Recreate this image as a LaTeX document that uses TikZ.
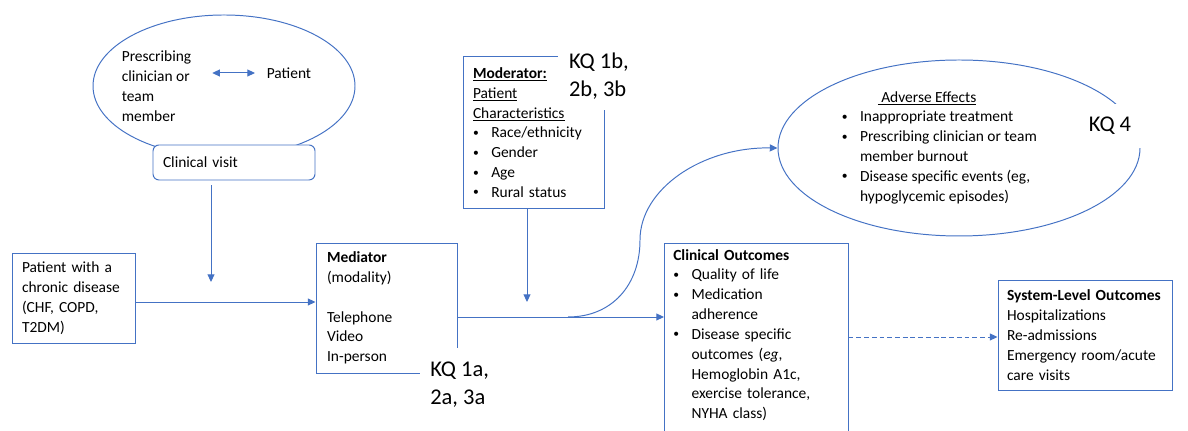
\documentclass[tikz,border=0pt]{standalone}
\usepackage{fontspec}
\setmainfont{Carlito}
\usetikzlibrary{arrows.meta, positioning, shapes.geometric}
\definecolor{linkblue}{HTML}{4472C4}
\newcommand{\bulitem}{\makebox[13pt][l]{\raisebox{0.2ex}{\scalebox{0.75}{\textbullet}}}}
\newcommand{\bulcont}{\hspace*{13pt}}

\begin{document}
\begin{tikzpicture}[
    txt/.style={font=\fontsize{11}{14.1}\selectfont, align=left},
    cmbox/.style={draw=linkblue, line width=0.7pt, txt, inner xsep=0.25cm},
    ring/.style={draw=linkblue, line width=0.7pt, ellipse},
    kqlabel/.style={fill=white, font=\fontsize{16}{20}\selectfont, align=left, inner xsep=0.25cm, inner ysep=0.3cm},
    link/.style={draw=linkblue, line width=0.7pt, -{Triangle[length=5.5pt,width=5pt]}}
]
                \useasboundingbox (0,0) rectangle (29.7,10.775);

                % Clinician-patient encounter
                \node[ring, minimum width=6.55cm, minimum height=3.55cm] (encounter) at (5.6,8.625) {};
                \node[txt, anchor=west] (prescriber) at (2.92,8.625) {Prescribing\\clinician or\\team\\member};
                \node[txt, anchor=west] (pt) at (6.545,8.95) {Patient};
                \draw[link, {Triangle[length=5.5pt,width=5pt]}-{Triangle[length=5.5pt,width=5pt]}, shorten <=0.4cm, shorten >=0.17cm] (prescriber.east |- pt.west) -- (pt.west);
                \node[cmbox, rounded corners=0.15cm, fill=white, minimum height=0.875cm, text width=3.55cm] (visit) at (5.85,6.7125) {Clinical visit};

                % Population
                \node[cmbox, minimum height=2.25cm, text width=2.575cm] (patient) at (1.8375,3.325) {Patient with a\\chronic disease\\(CHF, COPD,\\T2DM)};

                % Mediator
                \node[cmbox, minimum height=3.25cm, text width=2.975cm, inner xsep=0.275cm] (mediator) at (9.6625,3.075) {\textbf{Mediator}\\(modality)\\[14.1pt]Telephone\\Video\\In-person};
                \coordinate (entry) at (0,3.225);
                \draw[link] (patient.east |- entry) -- (mediator.west |- entry);
                \coordinate (visitdrop) at (5.275,3.725);
                \draw[link, shorten <=0.125cm] (visit.south -| visitdrop) -- (visitdrop);

                % Moderator
                \node[cmbox, minimum height=3.775cm, text width=3.025cm] (moderator) at (13.3375,7.4625) {\underline{\textbf{Moderator:}}\\\underline{Patient}\\\underline{Characteristics}\\\bulitem Race/ethnicity\\\bulitem Gender\\\bulitem Age\\\bulitem Rural status};
                \node[kqlabel, anchor=west, inner sep=0.27cm] (kqb) at (13.95,8.875) {KQ 1b,\\2b, 3b};
                \coordinate (moddrop) at (13.175,3.225);
                \draw[link] (moderator.south -| moddrop) -- (moddrop);

                % Clinical outcomes (box runs off the page)
                \node[txt, anchor=north west, text width=4.15cm, inner xsep=0.225cm, inner ysep=0.15cm] (outcomes) at (16.6,4.7) {\textbf{Clinical Outcomes}\\\bulitem Quality of life\\\bulitem Medication\\\bulcont adherence\\\bulitem Disease specific\\\bulcont outcomes (\textit{eg},\\\bulcont Hemoglobin A1c,\\\bulcont exercise tolerance,\\\bulcont NYHA class)};
                \draw[draw=linkblue, line width=0.7pt] ([yshift=-5.5cm]outcomes.north west) |- (outcomes.north east) -- ([yshift=-5.5cm]outcomes.north east);
                \coordinate (fork) at (14.2,2.85);
                \draw[link] (mediator.east |- fork) -- (outcomes.west |- fork);

                % Adverse effects
                \node[ring, minimum width=9.05cm, minimum height=4.4cm] (adverse) at (23.975,7.075) {};
                \node[txt, anchor=west] (harms) at (20.92,7.085) {\hspace*{25.6pt}\underline{\ Adverse Effects}\\\bulitem Inappropriate treatment\\\bulitem Prescribing clinician or team\\\bulcont member burnout\\\bulitem Disease specific events (eg,\\\bulcont hypoglycemic episodes)};
                \node[kqlabel, inner ysep=0.32cm] (kqfour) at (27.75,7.625) {KQ 4};
                \draw[link] (fork) .. controls (15.3,2.85) and (16.0,3.65) .. (16.0,4.775) .. controls (16.0,6.05) and (17.55,7.1) .. (adverse.west);

                % System-level outcomes
                \node[cmbox, minimum height=2.75cm, text width=3.9cm, inner xsep=0.225cm] (system) at (27.125,2.4) {\textbf{System-Level Outcomes}\\Hospitalizations\\Re-admissions\\Emergency room/acute\\care visits};
                \coordinate (sysentry) at (0,2.35);
                \draw[link, dash pattern=on 3.5pt off 2pt] (outcomes.east |- sysentry) -- (system.west |- sysentry);

                % Key question label on the mediator
                \node[kqlabel, anchor=west, inner ysep=0.35cm] (kqa) at (10.5,1.15) {KQ 1a,\\2a, 3a};
\end{tikzpicture}
\end{document}
